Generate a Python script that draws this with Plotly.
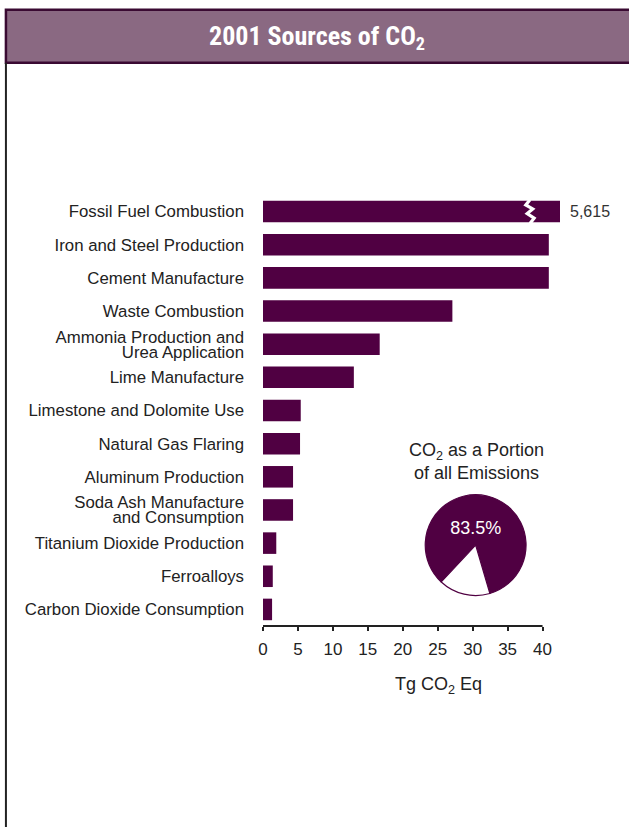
import plotly.graph_objects as go

# ---------------- data ----------------
categories = [
    "Fossil Fuel Combustion",
    "Iron and Steel Production",
    "Cement Manufacture",
    "Waste Combustion",
    "Ammonia Production and<br>Urea Application",
    "Lime Manufacture",
    "Limestone and Dolomite Use",
    "Natural Gas Flaring",
    "Aluminum Production",
    "Soda Ash Manufacture<br>and Consumption",
    "Titanium Dioxide Production",
    "Ferroalloys",
    "Carbon Dioxide Consumption",
]
values = [5615, 40.9, 40.9, 27.1, 16.7, 13.0, 5.4, 5.3, 4.3, 4.3, 1.9, 1.4, 1.3]
x_ticks = [0, 5, 10, 15, 20, 25, 30, 35, 40]
axis_cap = 42.5          # broken-bar display length for off-scale values
pie_labels = ["CO2", "Other gases"]
pie_values = [83.5, 16.5]

# ---------------- styles ----------------
BAR = "#500042"
TITLE_FILL = "#8a6982"
TITLE_EDGE = "#3a0a32"
TXT = "#222222"
FONT = "Liberation Sans, Arial, Helvetica, sans-serif"

W, H = 629, 827
L, R, T, B = 262.5, 68, 194.5, 201
pw = W - L - R
ph = H - T - B

n = len(categories)
ypos = list(range(n))
shown = [min(v, axis_cap) for v in values]

# tick labels: multi-line category names set with tight line spacing
LINE_STEP = 0.45   # category units between label lines
tick_vals, tick_text = [], []
for i, c in enumerate(categories):
    lines = c.split("<br>")
    k = len(lines)
    for j, ln in enumerate(lines):
        tick_vals.append(i + (j - (k - 1) / 2) * LINE_STEP)
        tick_text.append(ln)

fig = go.Figure()

fig.add_trace(go.Bar(
    x=shown, y=ypos, orientation="h",
    marker=dict(color=BAR, line=dict(width=0)),
    width=0.65,
    hoverinfo="skip", showlegend=False,
))

annotations = []

# break marks + value labels on off-scale bars
for i, v in enumerate(values):
    if v > axis_cap:
        zx = [38.2, 37.6, 38.6, 37.8, 38.8, 38.2]
        zy = [i - 0.36, i - 0.2, i - 0.08, i + 0.06, i + 0.2, i + 0.36]
        fig.add_trace(go.Scatter(
            x=zx, y=zy, mode="lines",
            line=dict(color="white", width=3.2),
            hoverinfo="skip", showlegend=False,
        ))
        annotations.append(dict(
            text=f"{v:,}", xref="x", yref="y", x=shown[i], y=i,
            xanchor="left", yanchor="middle", xshift=8, showarrow=False,
            font=dict(family=FONT, size=16, color="#333333"),
        ))

# pie
def px2paper_x(px):
    return (px - L) / pw

def px2paper_y(py):
    return (H - B - py) / ph

fig.add_trace(go.Pie(
    labels=pie_labels, values=pie_values, sort=False,
    direction="clockwise", rotation=223,
    marker=dict(colors=[BAR, "white"], line=dict(color=BAR, width=1.2)),
    text=[f"{pie_values[0]}%", ""], textinfo="text",
    textposition="inside", insidetextorientation="horizontal",
    textfont=dict(family=FONT, size=18, color="white"),
    domain=dict(x=[px2paper_x(425), px2paper_x(526)],
                y=[px2paper_y(595.5), px2paper_y(494.5)]),
    hoverinfo="skip", showlegend=False,
))

annotations += [
    dict(text="2001 Sources of CO<sub>2</sub>", xref="paper", yref="paper",
         x=px2paper_x(317), y=px2paper_y(37), showarrow=False,
         xanchor="center", yanchor="middle",
         font=dict(family="Liberation Sans Narrow, Arial Narrow, Roboto Condensed, " + FONT,
                   size=26, color="white", weight="bold")),
    dict(text="Tg CO<sub>2</sub> Eq", xref="paper", yref="paper",
         x=px2paper_x(438), y=px2paper_y(686), showarrow=False,
         xanchor="center", yanchor="middle",
         font=dict(family=FONT, size=18, color=TXT)),
    dict(text="CO<sub>2</sub> as a Portion<br>of all Emissions", xref="paper", yref="paper",
         x=px2paper_x(476), y=px2paper_y(461), showarrow=False,
         xanchor="center", yanchor="middle",
         font=dict(family=FONT, size=18, color=TXT)),
]

fig.update_layout(
    width=W, height=H,
    margin=dict(l=L, r=R, t=T, b=B, pad=0),
    paper_bgcolor="white", plot_bgcolor="white",
    font=dict(family=FONT, color=TXT),
    bargap=0.35,
    xaxis=dict(
        range=[0, (pw) / 7.0], tickvals=x_ticks, ticktext=[str(t) for t in x_ticks],
        showgrid=False, zeroline=False, showline=False,
        ticks="outside", ticklen=4, tickwidth=2, tickcolor="#222",
        tickfont=dict(family=FONT, size=17, color=TXT),
        ticklabelstandoff=4, fixedrange=True,
    ),
    yaxis=dict(
        range=[n - 0.5, -0.5], tickvals=tick_vals, ticktext=tick_text,
        showgrid=False, zeroline=False, showline=False, ticks="",
        tickfont=dict(family=FONT, size=16.8, color=TXT),
        ticklabelstandoff=18, fixedrange=True,
    ),
    shapes=[
        # title bar
        dict(type="rect", xref="paper", yref="paper",
             x0=(5 - L) / pw, x1=(640 - L) / pw,
             y0=px2paper_y(62), y1=px2paper_y(9),
             fillcolor=TITLE_FILL, line=dict(color=TITLE_EDGE, width=2.5), layer="below"),
        # left frame line
        dict(type="line", xref="paper", yref="paper",
             x0=(5 - L) / pw, x1=(5 - L) / pw,
             y0=px2paper_y(62), y1=px2paper_y(830),
             line=dict(color="#222", width=2)),
        # x axis line from 0 to 40
        dict(type="line", xref="x", yref="paper",
             x0=x_ticks[0], x1=x_ticks[-1], y0=0, y1=0,
             line=dict(color="#222", width=2)),
    ],
    annotations=annotations,
)

fig.write_html(
    "out.html",
    config={"displayModeBar": False},
    post_script="document.body.style.margin='0';document.body.style.overflow='hidden';",
)
